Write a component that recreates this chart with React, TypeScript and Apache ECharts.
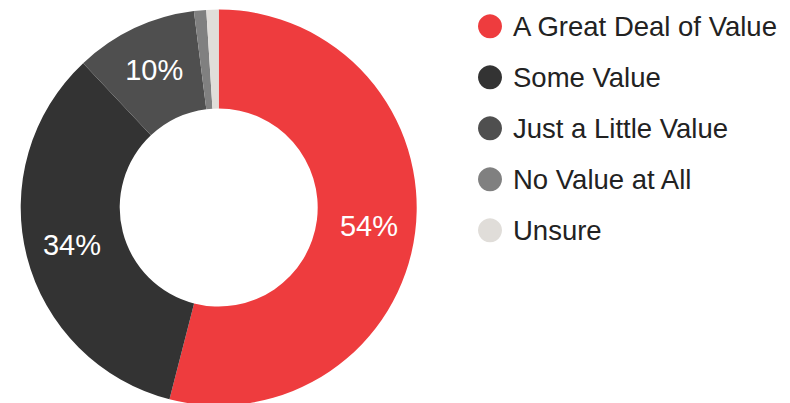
import React, { useEffect, useRef } from "react";
import * as echarts from "echarts";

const categories = [
  "A Great Deal of Value",
  "Some Value",
  "Just a Little Value",
  "No Value at All",
  "Unsure",
];
const values = [54, 34, 10, 1, 1];
const colors = ["#EE3C3E", "#333333", "#4F4F4F", "#808080", "#E0DDD9"];
const labelShown = [true, true, true, false, false];

export default function App() {
  const ref = useRef<HTMLDivElement>(null);
  useEffect(() => {
    document.body.style.margin = "0";
    if (!ref.current) return;
    const chart = echarts.init(ref.current, undefined, { renderer: "svg" });
    const font = "'Liberation Sans', Arial, sans-serif";
    chart.setOption({
      animation: false,
      backgroundColor: "#ffffff",
      legend: {
        orient: "vertical",
        left: 473,
        top: 7.3,
        icon: "circle",
        itemWidth: 24,
        itemHeight: 24,
        itemGap: 23,
        selectedMode: false,
        data: categories,
        textStyle: {
          fontFamily: font,
          fontSize: 27.5,
          color: "#222222",
          lineHeight: 24,
          padding: [0, 0, 0, 6],
        },
      },
      series: [
        {
          type: "pie",
          radius: [99, 198],
          center: [218.7, 207.5],
          startAngle: 90,
          clockwise: true,
          avoidLabelOverlap: false,
          emphasis: { disabled: true },
          label: {
            position: "inside",
            formatter: "{c}%",
            color: "#ffffff",
            fontFamily: font,
            fontSize: 29,
            fontWeight: "normal",
          },
          labelLine: { show: false },
          data: categories.map((name, i) => ({
            name,
            value: values[i],
            itemStyle: { color: colors[i] },
            label: { show: labelShown[i] },
          })),
        },
      ],
    });
    return () => chart.dispose();
  }, []);
  return <div ref={ref} style={{ width: 790, height: 403 }} />;
}
